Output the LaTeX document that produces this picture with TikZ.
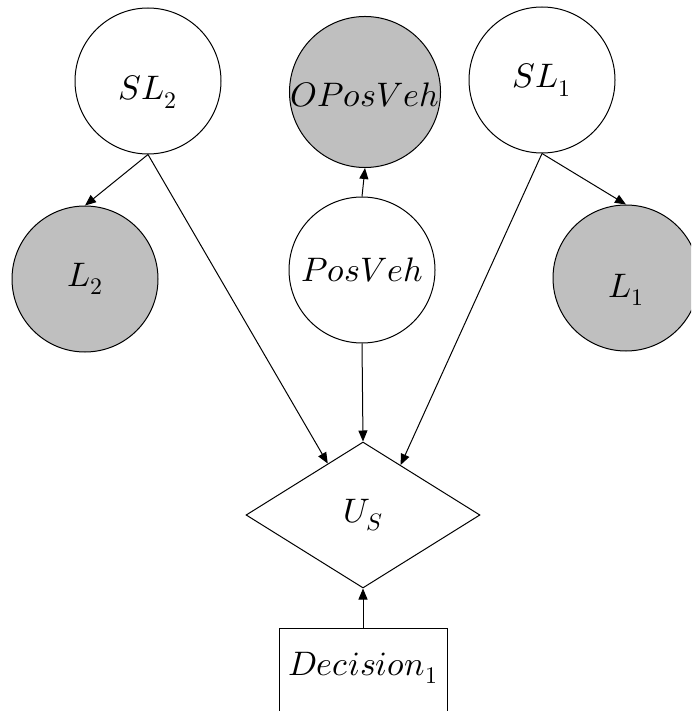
\documentclass[tikz,border=0pt]{standalone}
\usepackage{unicode-math}
\setmathfont{Latin Modern Math}
\usetikzlibrary{shapes.geometric,arrows.meta,calc}
\definecolor{obsgray}{RGB}{191,191,191}
\begin{document}
\begin{tikzpicture}[x=1pt,y=-1pt,
  every node/.style={font=\fontsize{34}{40}\selectfont},
  var/.style={circle,draw,line width=1pt,minimum size=146pt,inner sep=0pt,fill=white},
  obs/.style={var,fill=obsgray},
  lowtext/.style={text height=#1,text depth=0pt},
  util/.style={diamond,draw,line width=1pt,minimum width=234pt,minimum height=146pt,aspect=1.6,inner sep=0pt},
  decbox/.style={rectangle,draw,line width=1pt,minimum width=168pt,minimum height=100pt,inner sep=0pt},
  arr/.style={-{Triangle[length=11pt,width=9pt]},line width=1pt}]
\useasboundingbox (0,0) rectangle (691,711);
\clip (0,0) rectangle (691,711);
\node[var,lowtext=38pt] (SL2) at (148,81) {$SL_2$};
\node[obs,lowtext=30pt] (OPV) at (365,92) {$OPosVeh$};
\node[var] (SL1) at (542,80) {$SL_1$};
\node[obs] (L2) at (85,279) {$L_2$};
\node[var] (PV) at (362,270) {$PosVeh$};
\node[obs,lowtext=38pt] (L1) at (626,278) {$L_1$};
\node[util] (US) at (363,515) {$U_S$};
\node[decbox,anchor=north] (DEC) at (363,628) {};
\node (DECT) at (363,668) {$Decision_1$};
\coordinate (USl) at ($(US.north)!0.3!(US.west)$);
\coordinate (USr) at ($(US.north)!0.32!(US.east)$);
\draw[arr] (SL2.south) -- (L2.north);
\draw[arr] (SL2.south) -- (USl);
\draw[arr] (PV.north) -- (OPV.south);
\draw[arr] (PV.south) -- (US.north);
\draw[arr] (SL1.south) -- (USr);
\draw[arr] (SL1.south) -- (L1.north);
\draw[arr] (DEC.north) -- (US.south);
\end{tikzpicture}
\end{document}
